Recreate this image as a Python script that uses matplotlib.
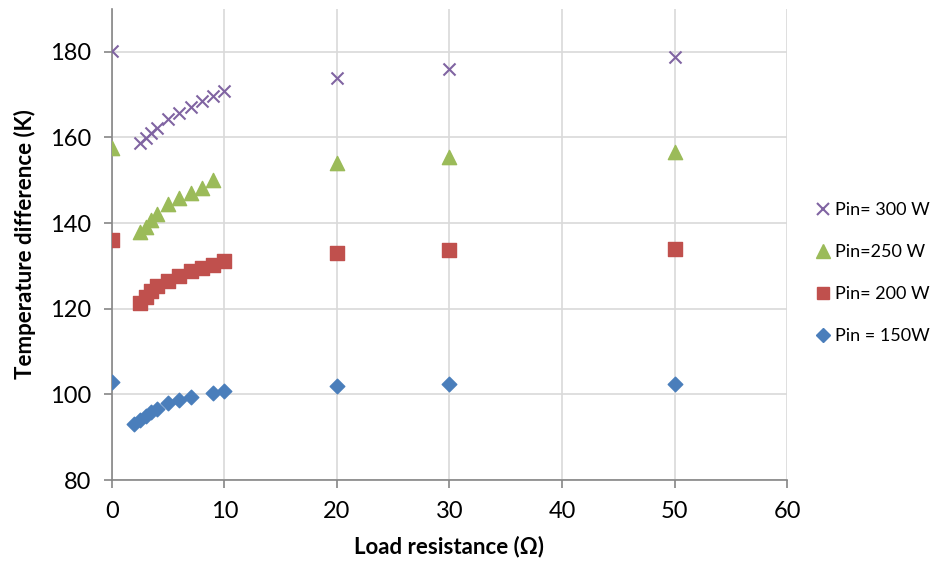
import matplotlib.pyplot as plt
from matplotlib.lines import Line2D

# Load resistance (ohm) and temperature difference (K) for each input power
x_150 = [0, 2, 2.5, 3, 3.5, 4, 5, 6, 7, 9, 10, 20, 30, 50]
y_150 = [103.0, 93.0, 94.0, 95.0, 95.8, 96.6, 97.9, 98.8, 99.4, 100.4, 100.7, 102.0, 102.4, 102.5]

x_200 = [0, 2.5, 3, 3.5, 4, 5, 6, 7, 8, 9, 10, 20, 30, 50]
y_200 = [136.1, 121.4, 122.7, 124.2, 125.2, 126.5, 127.7, 128.7, 129.5, 130.2, 131.2, 132.9, 133.6, 134.0]

x_250 = [0, 2.5, 3, 3.5, 4, 5, 6, 7, 8, 9, 20, 30, 50]
y_250 = [157.6, 138.0, 139.2, 140.7, 142.1, 144.5, 145.8, 147.1, 148.1, 150.1, 154.0, 155.4, 156.5]

x_300 = [0, 2.5, 3, 3.5, 4, 5, 6, 7, 8, 9, 10, 20, 30, 50]
y_300 = [180.2, 158.7, 159.9, 161.1, 162.2, 164.3, 165.7, 167.0, 168.4, 169.6, 170.9, 174.0, 176.1, 178.7]

labels = ["Pin= 300 W", "Pin=250 W", "Pin= 200 W", "Pin = 150W"]

plt.rcParams['font.family'] = ['Lato', 'DejaVu Sans']

fig = plt.figure(figsize=(9.44, 5.62), dpi=100)
ax = fig.add_axes([0.1186, 0.1459, 0.7151, 0.8381])

ax.scatter(x_150, y_150, marker="D", s=55, color="#4A7EBB", zorder=3)
ax.scatter(x_200, y_200, marker="s", s=95, color="#C0504D", zorder=3)
ax.scatter(x_250, y_250, marker="^", s=105, color="#9BBB59", zorder=3)
ax.scatter(x_300, y_300, marker="x", s=75, color="#8064A2", linewidths=1.5, zorder=3)

ax.set_xlim(0, 60)
ax.set_ylim(80, 190)
ax.set_xticks(range(0, 61, 10))
ax.set_yticks(range(80, 181, 20))
ax.grid(True, color="#D9D9D9", linewidth=1.2)
ax.set_axisbelow(True)
for s in ["top", "right"]:
    ax.spines[s].set_visible(False)
for s in ["left", "bottom"]:
    ax.spines[s].set_color("#868686")
    ax.spines[s].set_linewidth(1.2)
ax.tick_params(axis="both", colors="#868686", labelcolor="black", labelsize=17, length=6, width=1.2)
ax.tick_params(axis="x", pad=9)
ax.tick_params(axis="y", pad=9)

ax.set_xlabel("Load resistance (Ω)", fontsize=16, fontweight="bold", labelpad=10)
ax.set_ylabel("Temperature difference (K)", fontsize=16, fontweight="bold", labelpad=10)

handles = [
    Line2D([], [], linestyle="none", marker="x", markersize=8, markeredgewidth=1.5, color="#8064A2"),
    Line2D([], [], linestyle="none", marker="^", markersize=10, color="#9BBB59"),
    Line2D([], [], linestyle="none", marker="s", markersize=9, color="#C0504D"),
    Line2D([], [], linestyle="none", marker="D", markersize=7, color="#4A7EBB"),
]
fig.legend(handles, labels, loc="center left", bbox_to_anchor=(0.864, 0.514), frameon=False,
           fontsize=13, handlelength=0.8, handletextpad=0.3, labelspacing=1.45,
           borderaxespad=0, borderpad=0)

fig.savefig("out.png")
